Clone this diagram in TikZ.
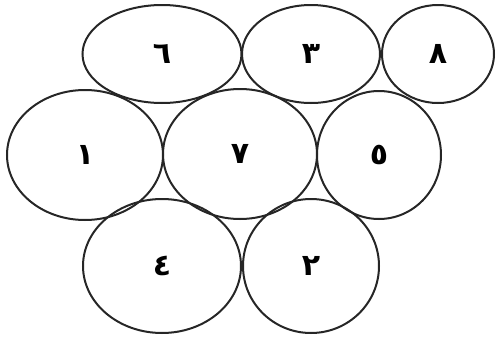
\documentclass[tikz,border=0pt]{standalone}
\usepackage{fontspec}
\usetikzlibrary{shapes.geometric}
\TeXXeTstate=1
\newfontfamily\arabicfont[Script=Arabic]{DejaVu Sans}
\begin{document}
\begin{tikzpicture}[x=1pt,y=-1pt,
  cell/.style={draw=black!85, line width=2pt, ellipse, inner sep=0pt,
    font=\arabicfont\bfseries\fontsize{30}{30}\selectfont}]
\useasboundingbox (0,0) rectangle (499,338);
\node[cell, minimum width=159pt, minimum height=98pt] (six)   at (162,54)  {٦};
\node[cell, minimum width=138pt, minimum height=98pt] (three) at (311,54)  {٣};
\node[cell, minimum width=112pt, minimum height=98pt] (eight) at (438,54)  {٨};
\node[cell, minimum width=156pt, minimum height=130pt] (one)  at (85,155)  {١};
\node[cell, minimum width=154pt, minimum height=130pt] (seven) at (240,154) {٧};
\node[cell, minimum width=124pt, minimum height=128pt] (five) at (379,155) {٥};
\node[cell, minimum width=158pt, minimum height=134pt] (four) at (162,266) {٤};
\node[cell, minimum width=136pt, minimum height=134pt] (two)  at (311,266) {٢};
\end{tikzpicture}
\end{document}
